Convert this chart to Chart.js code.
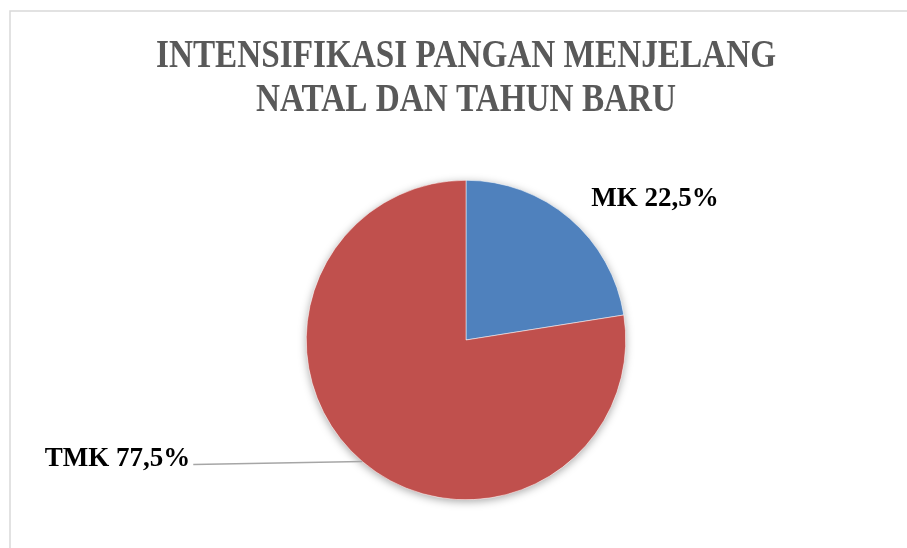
<!DOCTYPE html>
<html>
<head>
<meta charset="utf-8">
<style>
  body { margin: 0; background: #fff; }
  #chartIPM { display: block; }
</style>
</head>
<body>
    <canvas id="chartIPM" width="907" height="548"></canvas>

    <script src="https://cdn.jsdelivr.net/npm/chart.js"></script>

    <script>
        // data
        const categories = ['MK', 'TMK']
        const values = [22.5, 77.5]
        const valueLabels = ['MK 22,5%', 'TMK 77,5%']
        const titleLines = ['INTENSIFIKASI PANGAN MENJELANG', 'NATAL DAN TAHUN BARU']

        // frame + title (condensed serif, like the office chart)
        const frameAndTitle = {
            id: 'frameAndTitle',
            beforeDraw(chart) {
                const c = chart.ctx
                c.save()
                c.strokeStyle = '#d9d9d9'
                c.lineWidth = 1.5
                c.beginPath()
                c.moveTo(10, chart.height)
                c.lineTo(10, 11)
                c.lineTo(chart.width, 11)
                c.stroke()

                const cx = (chart.chartArea.left + chart.chartArea.right) / 2
                c.font = 'bold 39px "Liberation Serif"'
                c.fillStyle = '#595959'
                c.textAlign = 'center'
                c.textBaseline = 'alphabetic'
                const sx = 620 / c.measureText(titleLines[0]).width
                titleLines.forEach((line, i) => {
                    c.save()
                    c.translate(cx, 67 + i * 44)
                    c.scale(sx, 1)
                    c.fillText(line, 0, 0)
                    c.restore()
                })
                c.restore()
            },
            beforeDatasetsDraw(chart) {
                // soft shadow under the whole pie
                const arc = chart.getDatasetMeta(0).data[0]
                if (!arc) return
                const c = chart.ctx
                c.save()
                c.shadowColor = 'rgba(0,0,0,0.35)'
                c.shadowBlur = 9
                c.shadowOffsetY = 2
                c.fillStyle = '#ffffff'
                c.beginPath()
                c.arc(arc.x, arc.y, arc.outerRadius, 0, Math.PI * 2)
                c.fill()
                c.restore()
            },
            afterDraw(chart) {
                const c = chart.ctx
                const meta = chart.getDatasetMeta(0)
                c.save()
                c.font = 'bold 27px "Liberation Serif"'
                c.fillStyle = '#000000'
                c.textBaseline = 'alphabetic'
                meta.data.forEach((arc, i) => {
                    const p = arc.getProps(['x', 'y', 'startAngle', 'endAngle', 'outerRadius'])
                    const mid = (p.startAngle + p.endAngle) / 2
                    const ex = p.x + Math.cos(mid) * p.outerRadius
                    const ey = p.y + Math.sin(mid) * p.outerRadius
                    if (i === 0) {
                        const ox = p.x + Math.cos(mid) * p.outerRadius * 1.13
                        const oy = p.y + Math.sin(mid) * p.outerRadius * 1.13
                        c.textAlign = 'left'
                        c.fillText(valueLabels[i], ox + 8, oy + 3)
                    } else {
                        const lx = ex - 169
                        const ly = ey + 3
                        c.strokeStyle = '#a6a6a6'
                        c.lineWidth = 1.5
                        c.beginPath()
                        c.moveTo(ex, ey)
                        c.lineTo(lx, ly)
                        c.stroke()
                        c.textAlign = 'right'
                        c.fillText(valueLabels[i], lx - 3, ly + 2)
                    }
                })
                c.restore()
            }
        }

        const ctxIPM = document.getElementById('chartIPM')

        const chartIPM = new Chart(ctxIPM, {
            type: 'pie',
            data: {
                labels: categories,
                datasets: [{
                    data: values,
                    backgroundColor: ['#4f81bd', '#c0504d'],
                    borderColor: '#ffffff',
                    borderWidth: 0.5
                }]
            },
            options: {
                responsive: false,
                animation: false,
                layout: {
                    padding: { top: 180, bottom: 48, left: 306, right: 281 }
                },
                plugins: {
                    legend: { display: false },
                    title: { display: false },
                    tooltip: { enabled: false }
                }
            },
            plugins: [frameAndTitle]
        })
    </script>
</body>
</html>
